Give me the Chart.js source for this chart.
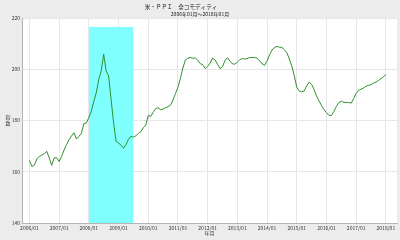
<!DOCTYPE html>
<html>
<head>
<meta charset="utf-8">
<script src="https://cdn.jsdelivr.net/npm/chart.js@4.4.0/dist/chart.umd.min.js"></script>
<style>
html, body { margin: 0; padding: 0; background: #ececec; }
</style>
</head>
<body>
<canvas id="ppiChart" width="400" height="240"></canvas>
<script>
// 米PPI 全コモディティ 月次 2006/01 - 2018/01 (index 0 = 2006/01)
var ppiValues = [
  164.4, 162.1, 162.6, 165.0, 166.0, 166.5, 167.0, 168.0, 165.4, 162.5, 165.4, 165.5,
  164.0, 166.0, 168.5, 170.6, 172.5, 174.0, 175.2, 172.8, 173.8, 175.0, 178.8, 179.0,
  181.2, 183.6, 187.4, 190.8, 196.0, 199.3, 205.9, 199.3, 197.4, 188.2, 179.1, 171.9,
  171.2, 170.4, 169.2, 170.6, 172.6, 173.8, 173.5, 174.0, 175.0, 175.6, 177.2, 178.2,
  182.0, 181.6, 183.2, 184.6, 185.0, 184.2, 184.5, 185.0, 185.4, 186.0, 188.0, 190.5,
  193.0, 196.4, 200.5, 203.6, 204.3, 204.6, 204.3, 204.4, 203.5, 202.2, 201.8, 200.3,
  201.1, 202.4, 204.4, 203.6, 202.0, 200.2, 201.0, 203.4, 204.5, 203.2, 202.1, 202.0,
  202.8, 203.7, 204.2, 204.0, 204.2, 204.6, 204.6, 204.6, 204.3, 203.3, 202.1, 201.5,
  203.2, 205.6, 207.5, 208.5, 208.9, 208.6, 208.5, 207.6, 206.5, 204.0, 201.2, 197.5,
  193.0, 191.5, 191.2, 191.5, 193.5, 195.0, 194.1, 192.1, 189.6, 187.6, 185.9, 184.2,
  183.1, 182.0, 182.0, 183.5, 185.5, 187.0, 187.5, 187.1, 187.0, 187.0, 186.8, 188.5,
  190.6, 191.8, 192.2, 192.7, 193.4, 193.7, 194.0, 194.6, 195.0, 195.6, 196.3, 197.0,
  198.0
];
var yearLabels = ['2006/01', '2007/01', '2008/01', '2009/01', '2010/01', '2011/01', '2012/01',
  '2013/01', '2014/01', '2015/01', '2016/01', '2017/01', '2018/01'];
var yearTicks = [0, 12, 24, 36, 48, 60, 72, 84, 96, 108, 120, 132, 144];
// 景気後退期 (月インデックス) と網掛けの上端
var recessionMonths = [24, 42];
var recessionTop = 216.5;
var titleText = '米・ＰＰＩ　全コモディティ';
var subtitleText = '2006年01月～2018年01月';

var ppiPoints = [];
for (var i = 0; i < ppiValues.length; i++) {
  ppiPoints.push({ x: i, y: ppiValues[i] });
}
var bandPoints = recessionMonths.map(function (m) { return { x: m, y: recessionTop }; });

var jpFont = "'Noto Sans CJK JP', 'DejaVu Sans', sans-serif";

// plot area white
var plotBg = {
  id: 'plotBg',
  beforeDraw: function (chart) {
    var a = chart.chartArea, ctx = chart.ctx;
    ctx.save();
    ctx.fillStyle = '#ffffff';
    ctx.fillRect(a.left, a.top, a.right - a.left, a.bottom - a.top);
    ctx.restore();
  }
};
// titles and the stacked y-axis title
var texts = {
  id: 'texts',
  afterDraw: function (chart) {
    var a = chart.chartArea, ctx = chart.ctx;
    var cy = (a.top + a.bottom) / 2;
    ctx.save();
    ctx.fillStyle = '#222';
    ctx.textAlign = 'center';
    ctx.textBaseline = 'middle';
    ctx.font = '5.6px ' + jpFont;
    ctx.fillText(titleText, 181, 7);
    ctx.font = '5px ' + jpFont;
    ctx.fillText(subtitleText, 200, 14);
    ctx.fillStyle = '#333';
    ctx.fillText('指', 8, cy - 3);
    ctx.fillText('数', 8, cy + 3);
    ctx.restore();
  }
};

var ppiChart = new Chart(document.getElementById('ppiChart'), {
  type: 'line',
  data: {
    datasets: [{
      label: '全コモディティ',
      data: ppiPoints,
      borderColor: '#2f8f2f',
      borderWidth: 1,
      pointRadius: 0,
      fill: false,
      order: 1
    }, {
      label: '景気後退期',
      data: bandPoints,
      borderWidth: 0,
      borderColor: 'rgba(0,0,0,0)',
      backgroundColor: '#80ffff',
      pointRadius: 0,
      fill: 'start',
      order: 2
    }]
  },
  options: {
    responsive: false,
    animation: false,
    events: [],
    layout: { padding: { top: 18, right: 3 } },
    plugins: {
      legend: { display: false },
      tooltip: { enabled: false }
    },
    scales: {
      x: {
        type: 'linear',
        min: -3,
        max: 148.5,
        afterBuildTicks: function (scale) {
          scale.ticks = yearTicks.map(function (v) { return { value: v }; });
        },
        afterFit: function (scale) { scale.height = 17; },
        ticks: {
          autoSkip: false,
          maxRotation: 0,
          padding: 2,
          color: '#333',
          font: { family: jpFont, size: 5 },
          callback: function (v) { return yearLabels[yearTicks.indexOf(v)]; }
        },
        grid: { color: '#e6e6e6', drawTicks: false },
        border: { color: '#b4b4b4' },
        title: {
          display: true,
          text: '年月',
          color: '#333',
          font: { family: jpFont, size: 5, lineHeight: 1 },
          padding: { top: 0, bottom: 4 }
        }
      },
      y: {
        min: 140,
        max: 220,
        afterFit: function (scale) { scale.width = 22; },
        ticks: {
          stepSize: 20,
          padding: 2,
          color: '#333',
          font: { family: jpFont, size: 5 }
        },
        grid: { color: '#e6e6e6', drawTicks: false },
        border: { color: '#b4b4b4' }
      }
    }
  },
  plugins: [plotBg, texts]
});
</script>
</body>
</html>
